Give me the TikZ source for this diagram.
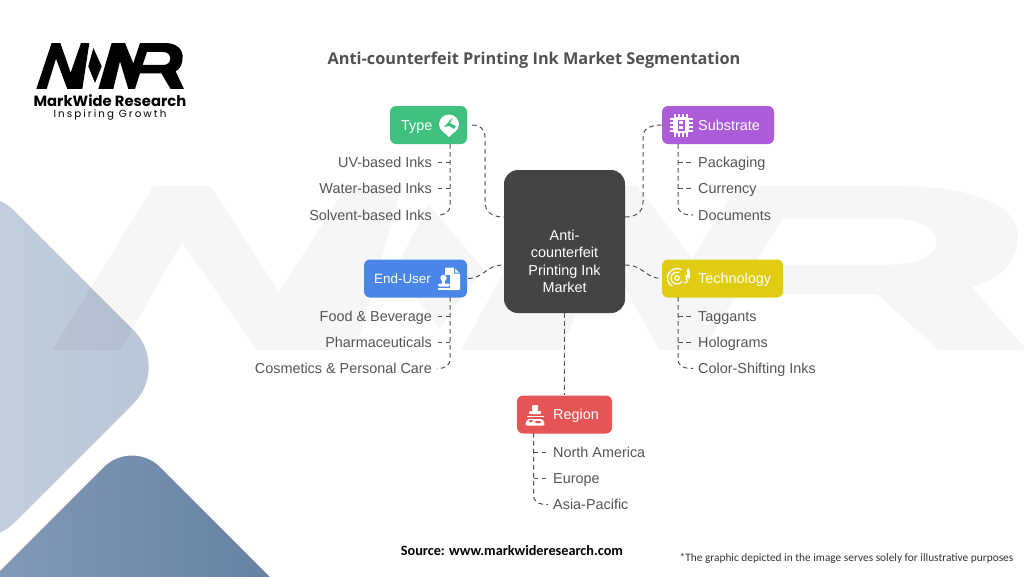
\documentclass[tikz,border=0pt]{standalone}
\usepackage{fontspec}
\setmainfont{Liberation Sans}
\newfontfamily\titlefont{Open Sans}
\newfontfamily\logofont{Poppins}
\newfontfamily\logospaced[LetterSpace=20]{Poppins}
\newfontfamily\notefont{Carlito}
\usetikzlibrary{calc}
\definecolor{leafink}{HTML}{555555}
\definecolor{connink}{HTML}{4F4F4F}
\definecolor{coregrey}{HTML}{444444}
\definecolor{cgreen}{HTML}{3FC07F}
\definecolor{cpurple}{HTML}{AC5CD9}
\definecolor{cblue}{HTML}{4A86E8}
\definecolor{cyellow}{HTML}{E1CC14}
\definecolor{cred}{HTML}{E65555}
\tikzset{x=1pt,y=-1pt,
 leaf/.style={font=\fontsize{14.4}{16}\selectfont,text=leafink,inner sep=0pt,text height=10pt,text depth=0pt},
 headbox/.style={rectangle,rounded corners=6pt,minimum height=38pt,inner sep=0pt},
 headtxt/.style={font=\fontsize{14.4}{16}\selectfont,text=white,inner sep=0pt,text height=10pt,text depth=0pt},
 connline/.style={draw=connink,line width=1pt,dash pattern=on 4.5pt off 3.5pt},
 ico/.style={fill=white,draw=none},
 icoline/.style={draw=white,line width=1.2pt,fill=none}}
\newcommand\logoshapes{%
 (109,207) -- (155,69) -- (181,69) -- (212,158) -- (243,69) -- (268,69) -- (247,207) -- (202,207) -- (168,116) -- (140,207) -- cycle
 (280,84) -- (305,139) -- (285,189) -- (265,139) -- cycle
 (295,207) -- (335,69) -- (375,69) -- (400,130) -- (420,69) -- (495,69) .. controls (530,69) and (548,88) .. (548,110) .. controls (548,132) and (540,148) .. (527,154) -- (552,207) -- (512,207) -- (484,160) -- (420,160) -- (405,207) -- (385,207) -- (360,124) -- (340,207) -- cycle
 (441,96) -- (490,96) .. controls (518,96) and (518,135) .. (490,135) -- (428,135) -- cycle}
\begin{document}
\begin{tikzpicture}
\useasboundingbox (0,0) rectangle (1024,576);
\fill[white] (0,0) rectangle (1024,576);
% decorative shapes
\begin{scope}
\clip (0,0) rectangle (1024,576);
\shade[left color={rgb,255:red,205;green,215;blue,226},right color={rgb,255:red,184;green,198;blue,214},rounded corners=52pt]
 (-22,174.5) -- (170.25,366.75) -- (-22,559) -- (-214.25,366.75) -- cycle;
\shade[left color={rgb,255:red,146;green,168;blue,194},right color={rgb,255:red,86;green,115;blue,150},rounded corners=40pt]
 (132,439) -- (432,739) -- (-168,739) -- cycle;
\end{scope}
% watermark
\begin{scope}[xshift=-187.6pt,yshift=104.3pt*-1,x=2.2pt,y=-1.187pt]
\fill[black,fill opacity=0.037,even odd rule] \logoshapes;
\end{scope}
% logo
\begin{scope}[x=0.3333pt,y=-0.3333pt,yshift=-20pt]
\fill[black,even odd rule] \logoshapes;
\end{scope}
\node[inner sep=0pt,text height=10.4pt,text depth=0pt,font=\logofont\bfseries\fontsize{14.8}{16}\selectfont] (brand) at (110,101.7) {MarkWide Research};
\node[inner sep=0pt,text height=7.2pt,text depth=2pt,font=\logospaced\fontsize{10.3}{11}\selectfont] (slogan) at (110,115) {Inspiring Growth};
% title
\node[inner sep=0pt,font=\titlefont\bfseries\fontsize{16.3}{20}\selectfont,text=leafink!95!black] (title) at (534,60) {Anti-counterfeit Printing Ink Market Segmentation};
% core
\node[rectangle,rounded corners=14pt,fill=coregrey,minimum width=121pt,minimum height=143pt,inner sep=0pt] (core) at (564.5,241.5) {};
\node[inner sep=0pt,text=white,align=center,font=\fontsize{14.4}{17.5}\selectfont] (coretext) at (564.5,261.5) {Anti-\\counterfeit\\Printing Ink\\Market};
% heads
\node[headbox,fill=cgreen,minimum width=77pt] (type) at (428.5,125) {};
\node[headtxt,anchor=west] (typetxt) at (401,125) {Type};
\node[headbox,fill=cpurple,minimum width=112pt] (substrate) at (718,125) {};
\node[headtxt,anchor=west] (subtxt) at (698,125) {Substrate};
\node[headbox,fill=cblue,minimum width=103pt] (enduser) at (415.5,278.5) {};
\node[headtxt,anchor=west,font=\fontsize{13.4}{16}\selectfont] (endtxt) at (374,278.5) {End-User};
\node[headbox,fill=cyellow,minimum width=121pt] (tech) at (722.5,278.5) {};
\node[headtxt,anchor=west] (techtxt) at (698,278.5) {Technology};
\node[headbox,fill=cred,minimum width=95pt] (region) at (564.5,414.5) {};
\node[headtxt,anchor=west] (regtxt) at (553,414.5) {Region};
% leaves
\node[leaf,anchor=east] (l1) at (432,162) {UV-based Inks};
\node[leaf,anchor=east] (l2) at (432,188.5) {Water-based Inks};
\node[leaf,anchor=east] (l3) at (432,215) {Solvent-based Inks};
\node[leaf,anchor=west] (s1) at (698,162) {Packaging};
\node[leaf,anchor=west] (s2) at (698,188.5) {Currency};
\node[leaf,anchor=west] (s3) at (698,215) {Documents};
\node[leaf,anchor=east] (e1) at (432,316) {Food \& Beverage};
\node[leaf,anchor=east] (e2) at (432,342) {Pharmaceuticals};
\node[leaf,anchor=east] (e3) at (432,368.5) {Cosmetics \& Personal Care};
\node[leaf,anchor=west] (t1) at (698,316) {Taggants};
\node[leaf,anchor=west] (t2) at (698,342) {Holograms};
\node[leaf,anchor=west] (t3) at (698,368.5) {Color-Shifting Inks};
\node[leaf,anchor=west] (r1) at (553,452) {North America};
\node[leaf,anchor=west] (r2) at (553,478) {Europe};
\node[leaf,anchor=west] (r3) at (553,504.5) {Asia-Pacific};
% trunk anchors
\coordinate (tt) at (450,144);
\coordinate (st) at (678,144);
\coordinate (et) at (450,297);
\coordinate (ht) at (678,297);
\coordinate (rt) at (533.5,433);
\coordinate (coreTL) at (504,217);
\coordinate (coreTR) at (625,217);
\coordinate (coreEL) at (504,265);
\coordinate (coreER) at (625,265);
% hub connectors
\draw[connline,shorten <=5pt] (type.east) .. controls (480,125) and (485,129) .. (485,137) -- (485,202) .. controls (485,212) and (492,217) .. (coreTL);
\draw[connline] (coreTR) .. controls (636,217) and (643,212) .. (643,202) -- (643,137) .. controls (643,129) and (650,125) .. (substrate.west);
\draw[connline,shorten <=1pt] (enduser.east) .. controls (485,278) and (485,265) .. (coreEL);
\draw[connline] (coreER) .. controls (644,265) and (644,278) .. (tech.west);
\draw[connline] (core.south) -- (region.north);
% trunks
\draw[connline] (tt) -- (tt|-l2) -- ($(tt|-l3)+(0,-10)$) .. controls ($(tt|-l3)+(0,-3)$) and ($(tt|-l3)+(-4,0)$) .. ($(l3.east)+(5,0)$);
\draw[connline] (tt|-l1) -- ($(l1.east)+(5,0)$);
\draw[connline] (tt|-l2) -- ($(l2.east)+(5,0)$);
\draw[connline] (st) -- (st|-s2) -- ($(st|-s3)+(0,-10)$) .. controls ($(st|-s3)+(0,-3)$) and ($(st|-s3)+(4,0)$) .. ($(s3.west)+(-5,0)$);
\draw[connline] (st|-s1) -- ($(s1.west)+(-5,0)$);
\draw[connline] (st|-s2) -- ($(s2.west)+(-5,0)$);
\draw[connline] (et) -- (et|-e2) -- ($(et|-e3)+(0,-10)$) .. controls ($(et|-e3)+(0,-3)$) and ($(et|-e3)+(-4,0)$) .. ($(e3.east)+(5,0)$);
\draw[connline] (et|-e1) -- ($(e1.east)+(5,0)$);
\draw[connline] (et|-e2) -- ($(e2.east)+(5,0)$);
\draw[connline] (ht) -- (ht|-t2) -- ($(ht|-t3)+(0,-10)$) .. controls ($(ht|-t3)+(0,-3)$) and ($(ht|-t3)+(4,0)$) .. ($(t3.west)+(-5,0)$);
\draw[connline] (ht|-t1) -- ($(t1.west)+(-5,0)$);
\draw[connline] (ht|-t2) -- ($(t2.west)+(-5,0)$);
\draw[connline] (rt) -- (rt|-r2) -- ($(rt|-r3)+(0,-10)$) .. controls ($(rt|-r3)+(0,-3)$) and ($(rt|-r3)+(4,0)$) .. ($(r3.west)+(-5,0)$);
\draw[connline] (rt|-r1) -- ($(r1.west)+(-5,0)$);
\draw[connline] (rt|-r2) -- ($(r2.west)+(-5,0)$);
% icon: type (pin)
\fill[ico] (449,137) .. controls (446,133) and (439,131) .. (439,124.5) .. controls (439,119) and (443.5,114.5) .. (449,114.5) .. controls (454.5,114.5) and (459,119) .. (459,124.5) .. controls (459,131) and (452,133) .. (449,137) -- cycle;
\fill[cgreen] (453,117) -- (444,127) -- (449,126) -- (454,129) -- (456,126) -- (450,123) -- cycle;
% icon: substrate (chip)
\fill[ico,rounded corners=1.5pt] (673,117) rectangle (689,133);
\foreach \k in {-6,-2,2,6}{
 \fill[ico] (669.5,124+\k) rectangle (692.5,126+\k);
 \fill[ico] (680+\k,113.5) rectangle (682+\k,136.5);}
\fill[cpurple] (677.5,119.5) rectangle (684.5,130.5);
\fill[ico] (679.3,121.3) rectangle (682.8,124.3);
\fill[ico] (679.3,125.8) rectangle (682.8,128.8);
% icon: end-user (document and stamp)
\fill[ico,rounded corners=0.8pt] (445,267.5) -- (454,267.5) -- (460,273.5) -- (460,290) -- (445,290) -- cycle;
\fill[cblue] (454,267.5) -- (454,273.5) -- (460,273.5) -- (460,272.5) -- (455,272.5) -- (455,267.5) -- cycle;
\fill[cblue] (437,274.5) rectangle (450,292);
\fill[ico] (443.5,278) circle (3.2);
\fill[ico] (442,280) rectangle (445,283.5);
\fill[ico,rounded corners=1pt] (438,283.5) rectangle (449.5,286.5);
\fill[ico] (438,288) rectangle (449.5,290);
% icon: technology (fingerprint)
\draw[icoline] (677,278) ++(120:9.5) arc[start angle=120,end angle=300,radius=9.5];
\draw[icoline] (677,278) ++(-20:9.5) arc[start angle=-20,end angle=15,radius=9.5];
\draw[icoline] (677,278) ++(30:6) arc[start angle=30,end angle=290,radius=6];
\draw[icoline] (677,278) circle (2.3);
\fill[ico] (686.5,272) rectangle (690,278);
\fill[ico] (688.2,267.5) -- (686.5,272) -- (690,272) -- cycle;
\draw[icoline,line width=1pt] (688.2,278) .. controls (688.2,282) and (686,284) .. (683.5,283);
% icon: region (stamp)
\fill[ico,rounded corners=1pt] (532,405) rectangle (538,411);
\fill[ico,rounded corners=1pt] (529,411) rectangle (541,414);
\fill[ico] (526.5,415.5) rectangle (543.5,417);
\fill[ico,rounded corners=2pt] (527,419) -- (543,419) -- (545,425.5) -- (525,425.5) -- cycle;
\fill[cred] (531,421) ellipse (2.2 and 1);
\fill[cred] (538,422) ellipse (3 and 1.3);
% footer
\node[inner sep=0pt,font=\notefont\bfseries\fontsize{14.25}{16}\selectfont] (source) at (512,551) {Source: www.markwideresearch.com};
\node[inner sep=0pt,font=\notefont\fontsize{11.35}{13}\selectfont,text=black!80] (note) at (846.5,558) {*The graphic depicted in the image serves solely for illustrative purposes};
\end{tikzpicture}
\end{document}
